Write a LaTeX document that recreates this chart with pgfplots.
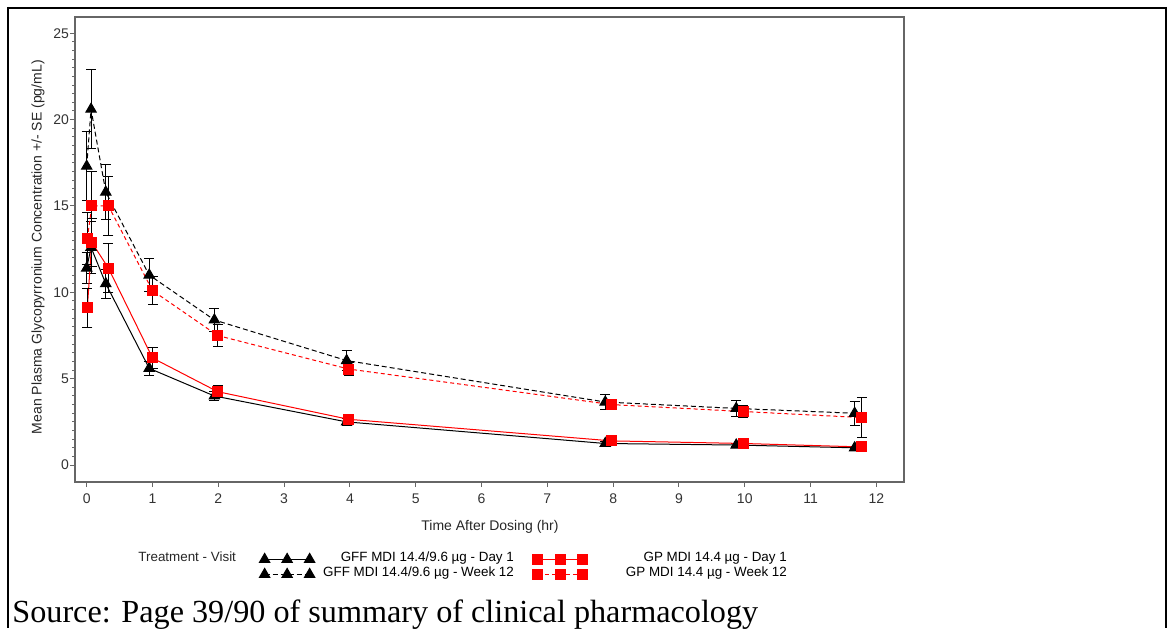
\documentclass[border=0pt]{standalone}
\usepackage{fontspec}
\setmainfont{Liberation Sans}
\newfontfamily\captionserif{Liberation Serif}
\usepackage{pgfplots}
\usepackage{pgfplotstable}
\pgfplotsset{compat=1.18}

% Mean concentration (m) and standard error (e) against time after dosing (t)
\pgfplotstableread{
t     m     e
0.00  11.4  0.9
0.066 12.6  1.5
0.29  10.5  0.85
0.95  5.6   0.4
1.94  4.0   0.25
3.95  2.5   0.2
7.88  1.25  0.1
9.87  1.16  0.08
11.67 1.0   0.06
}\gffday

\pgfplotstableread{
t     m     e
0.01  9.1   1.15
0.076 12.9  1.4
0.33  11.4  1.4
1.00  6.2   0.6
1.99  4.25  0.35
3.98  2.65  0.2
7.98  1.4   0.1
9.98  1.25  0.1
11.78 1.05  0.06
}\gpday

\pgfplotstableread{
t     m     e
0.00  17.3  2.0
0.066 20.6  2.3
0.29  15.8  1.6
0.95  11.0  0.95
1.94  8.4   0.67
3.95  6.05  0.6
7.88  3.65  0.45
9.87  3.28  0.45
11.67 3.0   0.7
}\gffwk

\pgfplotstableread{
t     m     e
0.01  13.1  1.5
0.076 15.0  2.0
0.33  15.0  1.7
1.00  10.1  0.83
1.99  7.5   0.64
3.98  5.56  0.4
7.98  3.5   0.3
9.98  3.1   0.33
11.78 2.75  1.15
}\gpwk

\begin{document}
\begin{tikzpicture}
% page: 586pt x 314pt
\path[use as bounding box] (0,0) rectangle (586pt,314pt);
% surrounding table cell
\draw[line width=1pt] (4pt,310pt) -- (583pt,310pt);
\draw[line width=0.7pt] (4pt,310.5pt) -- (4pt,0pt);
\draw[line width=0.7pt] (583pt,310.5pt) -- (583pt,0pt);

\begin{axis}[
  at={(37.5pt,73pt)}, anchor=south west,
  width=414.5pt, height=232.5pt, scale only axis,
  xmin=-0.178, xmax=12.42, ymin=-0.98, ymax=25.94,
  xtick={0,1,...,12}, ytick={0,5,...,25},
  minor y tick num=9,
  xtick pos=bottom, ytick pos=left,
  tick align=outside,
  major tick length=2.5pt, minor tick length=1.4pt,
  tick style={black!60, line width=0.5pt},
  axis line style={black!60, line width=0.8pt},
  /pgf/number format/assume math mode=true,
  ticklabel style={font=\fontsize{7}{8}\selectfont, text=black!80},
  yticklabel style={xshift=3pt},
  xlabel={Time After Dosing (hr)},
  ylabel={Mean Plasma Glycopyrronium Concentration +/- SE (pg/mL)},
  label style={font=\fontsize{7}{8}\selectfont, text=black!85},
  xlabel style={at={(axis description cs:0.5006,-0.0968)}, anchor=center},
  ylabel style={at={(axis description cs:-0.0446,0.505)}, anchor=center},
  legend columns=2,
  legend style={at={(axis description cs:0.222,-0.1495)}, anchor=north west,
    draw=none, fill=none, inner sep=0pt, column sep=0pt, row sep=0pt,
    font=\fontsize{6.7}{7.5}\selectfont,
    nodes={inner sep=0pt, text height=5pt, text depth=2.5pt}},
  legend image code/.code={
    \draw[#1, mark repeat=1, mark phase=1] plot coordinates {(0pt,0pt) (11.25pt,0pt) (22.5pt,0pt)};},
  error bars/y dir=both, error bars/y explicit,
  error bars/error bar style={black, solid, line width=0.5pt},
  error bars/error mark options={rotate=90, black, solid, mark size=2.5pt, line width=0.5pt},
]
\addplot[black, line width=0.5pt, mark=triangle*, mark size=3pt, mark options={solid, fill=black}]
  table[x=t, y=m, y error=e] {\gffday};
\addlegendentry{\makebox[109pt][r]{GFF MDI 14.4/9.6 µg - Day 1\hspace{9.5pt}}}
\addplot[red, line width=0.5pt, mark=square*, mark size=2.5pt, mark options={solid, fill=red}]
  table[x=t, y=m, y error=e] {\gpday};
\addlegendentry{\makebox[99.5pt][r]{GP MDI 14.4 µg - Day 1}}
\addplot[black, line width=0.5pt, dash pattern=on 2.5pt off 1.5pt, mark=triangle*, mark size=3pt, mark options={solid, fill=black}]
  table[x=t, y=m, y error=e] {\gffwk};
\addlegendentry{\makebox[109pt][r]{GFF MDI 14.4/9.6 µg - Week 12\hspace{9.5pt}}}
\addplot[red, line width=0.5pt, dash pattern=on 2pt off 1.5pt, mark=square*, mark size=2.5pt, mark options={solid, fill=red}]
  table[x=t, y=m, y error=e] {\gpwk};
\addlegendentry{\makebox[99.5pt][r]{GP MDI 14.4 µg - Week 12}}
\end{axis}

\node[anchor=base west, inner sep=0pt, font=\fontsize{6.7}{7.5}\selectfont, text=black!85]
  at (69pt,33.25pt) {Treatment - Visit};
\node[anchor=base west, inner sep=0pt, font=\captionserif\fontsize{16.1}{18}\selectfont]
  at (6pt,3pt) {Source: Page 39/90 of summary of clinical pharmacology};
\end{tikzpicture}
\end{document}
